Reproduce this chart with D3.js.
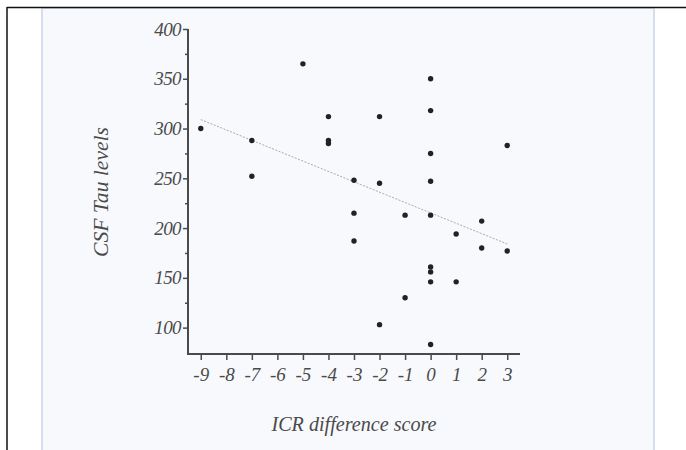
<!DOCTYPE html>
<html><head><meta charset="utf-8">
<script src="https://cdn.jsdelivr.net/npm/d3@7"></script>
<style>body{margin:0;background:#fff}svg{display:block}
text{font-family:"Liberation Serif","Times New Roman",Times,serif;font-style:italic}</style>
</head><body>
<svg id="c" width="686" height="450"></svg>
<script>
const icrScore = [-9,-7,-7,-5,-4,-4,-4,-3,-3,-3,-2,-2,-2,-1,-1,0,0,0,0,0,0,0,0,0,1,1,2,2,3,3];
const tauLevels = [300,288,252,365,312,288,285,248,215,187,312,245,103,213,130,350,318,275,247,213,161,156,146,83,194,146,207,180,283,177];
const xTicks = [-9,-8,-7,-6,-5,-4,-3,-2,-1,0,1,2,3];
const yTicks = [100,150,200,250,300,350,400];
const fitX = [-9, 3];
const fitY = [309, 184];

const svg = d3.select("#c");
svg.append("rect").attr("x",42).attr("y",8).attr("width",612).attr("height",450).attr("fill","#f8f9fd").attr("stroke","#d5deee").attr("stroke-width",2);
svg.append("line").attr("x1",7).attr("x2",686).attr("y1",7.5).attr("y2",7.5).attr("stroke","#111").attr("stroke-width",1.5);
svg.append("line").attr("x1",7).attr("x2",7).attr("y1",7).attr("y2",450).attr("stroke","#111").attr("stroke-width",1.5);

const x = d3.scaleLinear().domain([-9.5,3.5]).range([188,520]);
const y = d3.scaleLinear().domain([73.5,400]).range([354,29]);
const axCol = "#4a4a4a";

const yAxis = d3.axisLeft(y).tickValues(d3.range(100,401,25)).tickSize(5).tickPadding(2)
  .tickFormat(d => yTicks.includes(d) ? d : "");
const gy = svg.append("g").attr("transform","translate(188,0)").call(yAxis).attr("font-family",null).attr("font-size",null);
gy.select(".domain").attr("d", `M0,${y(400)}V${354}`).attr("stroke",axCol).attr("stroke-width",2);
gy.selectAll(".tick line").attr("stroke",axCol).attr("stroke-width",1.5).attr("x2", d => yTicks.includes(d) ? -5 : -3);
gy.selectAll(".tick text").style("font-size","19px").attr("fill",axCol).attr("letter-spacing","-0.6px");

const xAxis = d3.axisBottom(x).tickValues(xTicks).tickSize(6).tickPadding(8).tickFormat(d3.format("d"));
const gx = svg.append("g").attr("transform","translate(0,354)").call(xAxis).attr("font-family",null).attr("font-size",null);
gx.select(".domain").attr("d", `M187,0H520`).attr("stroke",axCol).attr("stroke-width",2);
gx.selectAll(".tick line").attr("stroke",axCol).attr("stroke-width",1.5);
gx.selectAll(".tick text").style("font-size","19px").attr("fill",axCol)
  .text(d => d < 0 ? "-" + Math.abs(d) : d);

svg.append("text").attr("x",354).attr("y",431).attr("text-anchor","middle").style("font-size","20px")
  .attr("fill",axCol).attr("textLength",165).attr("lengthAdjust","spacingAndGlyphs").text("ICR difference score");
svg.append("text").attr("transform","translate(108,192) rotate(-90)").attr("text-anchor","middle").style("font-size","20px")
  .attr("fill",axCol).attr("textLength",130).attr("lengthAdjust","spacingAndGlyphs").text("CSF Tau levels");

svg.append("line").attr("x1",x(fitX[0])).attr("y1",y(fitY[0])).attr("x2",x(fitX[1])).attr("y2",y(fitY[1]))
  .attr("stroke","#aaa").attr("stroke-width",1).attr("stroke-dasharray","2,1.5");

svg.append("g").selectAll("circle").data(icrScore.map((d,i)=>[d,tauLevels[i]])).join("circle")
  .attr("cx",d=>x(d[0])).attr("cy",d=>y(d[1])).attr("r",2.7).attr("fill","#222");
</script>
</body></html>
